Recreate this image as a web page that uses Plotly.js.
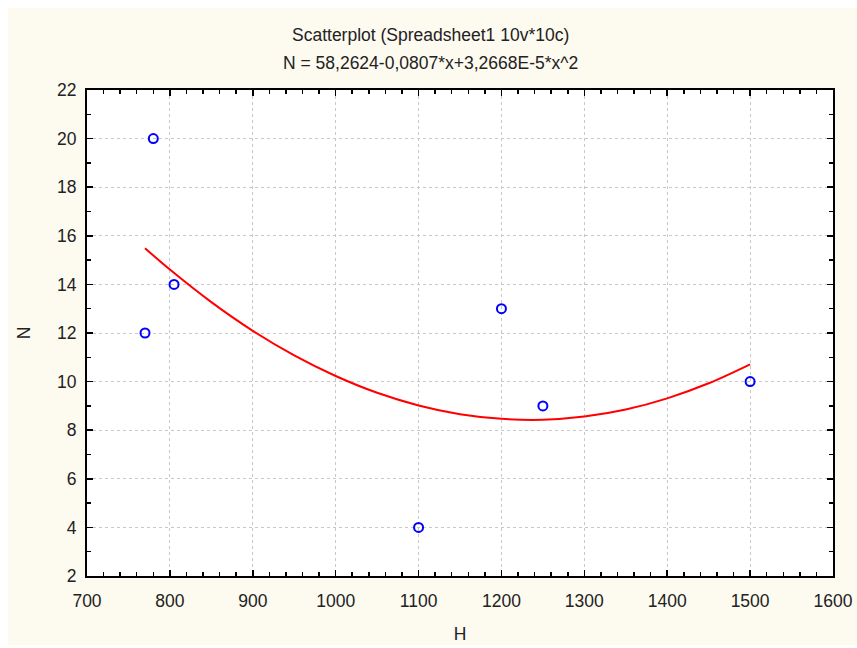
<!DOCTYPE html>
<html><head><meta charset="utf-8">
<script src="https://cdn.plot.ly/plotly-3.0.1.min.js"></script>
<style>html,body{margin:0;padding:0;background:#fff;}#c{width:857px;height:648px;}</style>
</head><body><div id="c"></div>
<script>
// Observed data (H, N)
const H = [770, 780, 805, 1100, 1200, 1250, 1500];
const N = [12, 20, 14, 4, 13, 9, 10];
// Fitted curve points
const fitH = [770, 800, 850, 900, 950, 1000, 1050, 1100, 1150, 1200, 1250, 1300, 1350, 1400, 1450, 1500];
const fitN = [15.49, 14.61, 13.27, 12.09, 11.08, 10.23, 9.54, 9.02, 8.66, 8.47, 8.43, 8.56, 8.85, 9.31, 9.93, 10.71];
const xTicks = [700, 800, 900, 1000, 1100, 1200, 1300, 1400, 1500, 1600];
const yTicks = [2, 4, 6, 8, 10, 12, 14, 16, 18, 20, 22];
const title1 = 'Scatterplot (Spreadsheet1 10v*10c)';
const title2 = 'N = 58,2624-0,0807*x+3,2668E-5*x^2';

const L = 87, R = 833, T = 90, B = 576, W = 857, Hh = 648;
const pw = R - L, ph = B - T;
const px = v => (v - L) / pw;
const py = v => (B - v) / ph;

const font = {family: 'Liberation Sans, Arial, sans-serif', size: 17.5, color: '#222'};

const axisCommon = {
  showline: true, linecolor: '#000', linewidth: 2, mirror: 'allticks',
  ticks: 'inside', ticklen: 6, tickwidth: 1.5, tickcolor: '#000',
  showgrid: true, gridcolor: '#c8c8c8', griddash: 'dot', gridwidth: 1,
  zeroline: false, tickfont: font,
  minor: {ticks: 'inside', ticklen: 4, tickwidth: 1.5, tickcolor: '#000', showgrid: false}
};

const data = [
  {x: fitH, y: fitN, type: 'scatter', mode: 'lines', line: {color: '#ff0000', width: 2, shape: 'spline'}, hoverinfo: 'skip'},
  {x: H, y: N, type: 'scatter', mode: 'markers', marker: {symbol: 'circle-open', size: 9, color: '#0000ff', line: {width: 2, color: '#0000ff'}}}
];

const layout = {
  width: W, height: Hh, showlegend: false,
  margin: {l: L, r: W - R, t: T, b: Hh - B, pad: 0},
  paper_bgcolor: '#ffffff', plot_bgcolor: '#ffffff',
  font: font,
  xaxis: Object.assign({}, axisCommon, {range: [700, 1600], tickvals: xTicks, ticktext: xTicks.map(String),
    ticklabelstandoff: 8,
    minor: Object.assign({}, axisCommon.minor, {dtick: 20, tick0: 700}),
    title: {text: 'H', font: font, standoff: 18}}),
  yaxis: Object.assign({}, axisCommon, {range: [2, 22], tickvals: yTicks, ticktext: yTicks.map(String),
    ticklabelstandoff: 5,
    minor: Object.assign({}, axisCommon.minor, {dtick: 1, tick0: 2}),
    title: {text: 'N', font: font, standoff: 22}}),
  shapes: [
    {type: 'rect', xref: 'paper', yref: 'paper', x0: px(8), x1: px(857), y0: py(645), y1: py(8), fillcolor: '#fdfaf0', line: {width: 0}, layer: 'below'},
    {type: 'rect', xref: 'paper', yref: 'paper', x0: 0, x1: 1, y0: 0, y1: 1, fillcolor: '#ffffff', line: {width: 0}, layer: 'below'}
  ],
  annotations: [
    {text: title1, xref: 'paper', yref: 'paper', x: px(430), y: py(35), xanchor: 'center', yanchor: 'middle', showarrow: false, font: font},
    {text: title2, xref: 'paper', yref: 'paper', x: px(430), y: py(63), xanchor: 'center', yanchor: 'middle', showarrow: false, font: font}
  ]
};

Plotly.newPlot('c', data, layout, {displayModeBar: false, staticPlot: true});
</script></body></html>
